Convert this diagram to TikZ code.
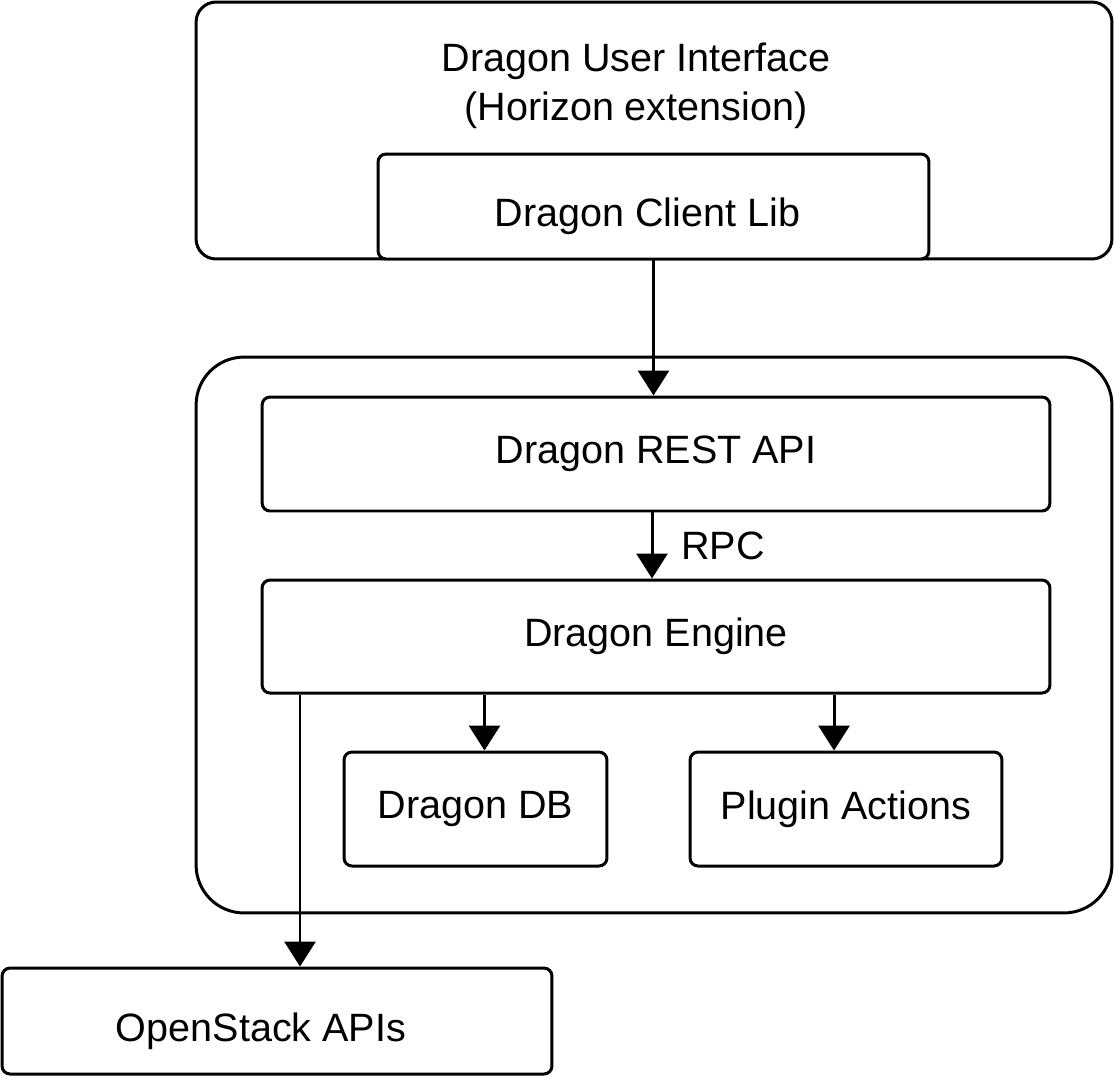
\documentclass[tikz,border=0pt]{standalone}
\usepackage{fontspec}
\setmainfont{Liberation Sans}
\usepackage{tikz}
\usetikzlibrary{arrows.meta,positioning,calc}

\begin{document}
\begin{tikzpicture}[
    x=0.02cm, y=-0.02cm,
    box/.style={rectangle, draw, line width=1.7pt, rounded corners=0.16cm, font=\fontsize{22.5}{27.9}\selectfont},
    frame/.style={rectangle, draw, line width=1.7pt},
    arrow/.style={-{Triangle[width=17.6pt, length=14.2pt]}, line width=1.7pt}
]
    \useasboundingbox (0,0) rectangle (1114,1076);

    % Horizon side
    \node[frame, rounded corners=0.4cm, minimum width=18.32cm, minimum height=5.14cm] (ui) at (654,130.5) {};
    \node[font=\fontsize{22.5}{27.9}\selectfont, align=center] (uititle) at (636,86) {Dragon User Interface\\(Horizon extension)};
    \node[box, minimum width=11.02cm, minimum height=2.1cm, fill=white,
          label={[font=\fontsize{22.5}{27.9}\selectfont, xshift=-0.12cm, yshift=-0.2cm]center:Dragon Client Lib}] (client) at (653.5,206.5) {};

    % Dragon service
    \node[frame, rounded corners=0.96cm, minimum width=18.32cm, minimum height=11.12cm] (core) at (654,635) {};
    \node[box, minimum width=15.76cm, minimum height=2.28cm] (rest) at (656,454) {Dragon REST API};
    \node[box, minimum width=15.76cm, minimum height=2.26cm] (engine) at (656,636.5) {Dragon Engine};
    \node[box, minimum width=5.26cm, minimum height=2.28cm] (db) at (475.5,809) {Dragon DB};
    \node[box, minimum width=6.24cm, minimum height=2.28cm] (plugin) at (846,809) {Plugin Actions};

    % External
    \node[box, minimum width=11.0cm, minimum height=2.12cm,
          label={[font=\fontsize{22.5}{27.9}\selectfont, xshift=-0.32cm, yshift=-0.2cm]center:OpenStack APIs}] (os) at (277,1021) {};

    % Arrows
    \draw[arrow] (client.south) -- (client.south |- rest.north);
    \draw[arrow] ([xshift=-0.08cm]rest.south) -- node[right, xshift=0.44cm, font=\fontsize{22.5}{27.9}\selectfont] {RPC} ([xshift=-0.08cm]engine.north);
    \draw[arrow] ([xshift=0.18cm]db.north |- engine.south) -- ([xshift=0.18cm]db.north);
    \draw[arrow] ([xshift=-0.24cm]plugin.north |- engine.south) -- ([xshift=-0.24cm]plugin.north);
    \draw[arrow] ([xshift=0.46cm]os.north |- engine.south) -- ([xshift=0.46cm]os.north);
\end{tikzpicture}
\end{document}
